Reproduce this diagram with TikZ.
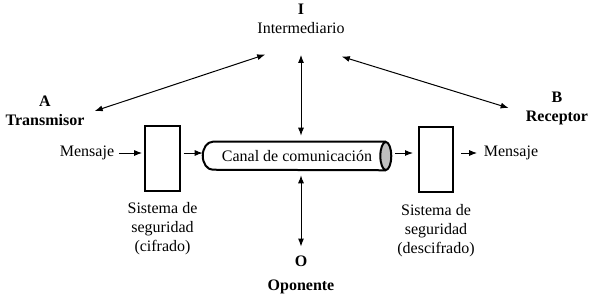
\documentclass[tikz,border=0pt]{standalone}
\usepackage{fontspec}
\setmainfont{Liberation Serif}[BoldFont={Liberation Serif Bold}]
\usetikzlibrary{shapes.geometric, arrows.meta, positioning}
\newcommand{\letra}{\fontsize{12}{14.25}\selectfont}

\begin{document}
\begin{tikzpicture}[x=0.75pt, y=-0.75pt, font=\letra]
\tikzstyle{caja} = [rectangle, draw=black, line width=1.5pt, minimum width=26pt, minimum height=48.75pt]
\tikzstyle{etiqueta} = [align=center, inner sep=0pt]
\tikzstyle{actor} = [etiqueta, font=\letra\bfseries]
\tikzstyle{grueso} = [line width=1.5pt]
\tikzstyle{flecha} = [line width=0.75pt, -{Latex[length=6pt, width=4.5pt]}]
\tikzstyle{dflecha} = [line width=0.75pt, {Latex[length=6pt, width=4.5pt]}-{Latex[length=6pt, width=4.5pt]}]
\useasboundingbox (0,0) rectangle (597,301);
% actores
\node (inter) [etiqueta] at (301,18.5) {\textbf{I}\\Intermediario};
\node (trans) [actor] at (45,111) {A\\Transmisor};
\node (recep) [actor] at (557,108) {B\\Receptor};
\node (opon) [actor] at (301,275) {O\\[4pt]Oponente};
% cadena del mensaje
\node (msg1) at (87,153) {Mensaje};
\node (box1) [caja] at (162.5,158) {};
\node (seg1) [etiqueta, below=8pt of box1] {Sistema de\\seguridad\\(cifrado)};
\node (canal) [minimum width=141pt, minimum height=21pt, inner sep=0pt] at (297,156) {Canal de comunicación};
\node (box2) [caja] at (436,159.5) {};
\node (seg2) [etiqueta, below=8pt of box2] {Sistema de\\seguridad\\(descifrado)};
\node (msg2) at (511,153) {Mensaje};
% canal
\draw[grueso] ([xshift=-4.1pt]canal.north east) -- ([xshift=7.5pt]canal.north west)
  arc[start angle=90, end angle=270, x radius=7.5pt, y radius=10.5pt] -- ([xshift=-4.1pt]canal.south east);
\draw[grueso, fill=gray!50] ([xshift=-4.1pt]canal.east) ellipse [x radius=4.1pt, y radius=10.5pt];
% flechas
\draw[flecha, shorten >=1.5pt] (msg1.east) -- (msg1.east -| box1.west);
\draw[flecha, shorten <=2pt] (box1.east |- msg1) -- (canal.west |- msg1);
\draw[flecha, shorten <=3pt, shorten >=3.5pt] (canal.east |- msg2) -- (box2.west |- msg2);
\draw[flecha, shorten <=5pt, shorten >=1.5pt] (box2.east |- msg2) -- (msg2.west);
\draw[dflecha] ([shift={(8,21)}]inter.south west) -- ([xshift=7.5pt]trans.east);
\draw[dflecha] ([shift={(-3,23)}]inter.south east) -- ([xshift=-12.75pt]recep.west);
\draw[dflecha, shorten <=16pt, shorten >=4.5pt] (inter.south) -- (inter.south |- canal.north);
\draw[dflecha, shorten <=6.75pt, shorten >=3.75pt] (opon.north) -- (opon.north |- canal.south);
\end{tikzpicture}
\end{document}
